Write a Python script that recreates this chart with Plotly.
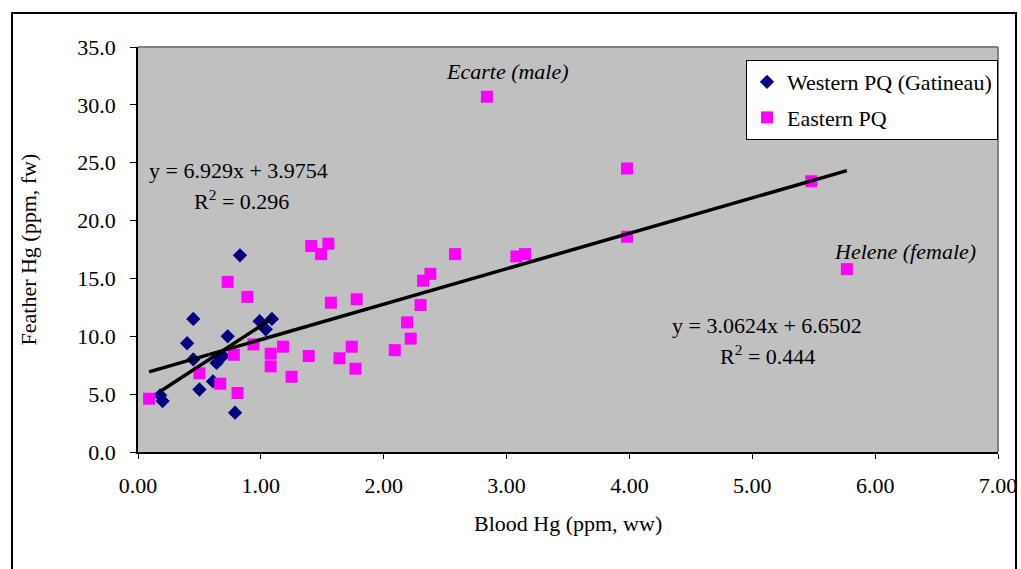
import plotly.graph_objects as go

# ---- data ----
west_x = [0.83, 0.45, 0.40, 0.45, 0.73, 0.64, 0.69, 0.61, 0.50, 0.18, 0.20, 0.79, 0.99, 1.09, 1.04]
west_y = [17.0, 11.5, 9.4, 8.0, 10.0, 7.7, 8.3, 6.1, 5.4, 4.9, 4.4, 3.4, 11.3, 11.5, 10.6]

east_x = [0.09, 0.50, 0.67, 0.73, 0.78, 0.81, 0.89, 0.94, 1.08, 1.08, 1.18, 1.25, 1.39, 1.41,
          1.49, 1.55, 1.57, 1.64, 1.74, 1.77, 1.78, 2.09, 2.19, 2.22, 2.30, 2.32, 2.38, 2.58,
          2.84, 3.08, 3.15, 3.98, 3.98, 5.48, 5.77]
east_y = [4.6, 6.8, 5.9, 14.7, 8.4, 5.1, 13.4, 9.3, 8.5, 7.4, 9.1, 6.5, 8.3, 17.8,
          17.1, 18.0, 12.9, 8.1, 9.1, 7.2, 13.2, 8.8, 11.2, 9.8, 12.7, 14.8, 15.4, 17.1,
          30.7, 16.9, 17.1, 24.5, 18.6, 23.4, 15.8]

west_fit = {"slope": 6.929, "intercept": 3.9754, "r2": "0.296"}
east_fit = {"slope": 3.0624, "intercept": 6.6502, "r2": "0.444"}

x_ticks = [0, 1, 2, 3, 4, 5, 6, 7]
y_ticks = [0, 5, 10, 15, 20, 25, 30, 35]

FONT = "Liberation Serif, Times New Roman, serif"
FS = 22

def fit_line(xs, fit):
    x0, x1 = min(xs), max(xs)
    return [x0, x1], [fit["slope"] * x0 + fit["intercept"], fit["slope"] * x1 + fit["intercept"]]

fig = go.Figure()

fig.add_trace(go.Scatter(
    x=west_x, y=west_y, mode="markers", name="Western PQ (Gatineau)",
    marker=dict(symbol="diamond", size=11, color="#000080", line=dict(width=0)),
    legendgroup="w"))
fig.add_trace(go.Scatter(
    x=east_x, y=east_y, mode="markers", name="Eastern PQ",
    marker=dict(symbol="square", size=12, color="#FF00FF", line=dict(width=0)),
    legendgroup="e"))

wx, wy = fit_line(west_x, west_fit)
ex, ey = fit_line(east_x, east_fit)
fig.add_trace(go.Scatter(x=wx, y=wy, mode="lines", line=dict(color="black", width=3.5),
                         showlegend=False, hoverinfo="skip"))
fig.add_trace(go.Scatter(x=ex, y=ey, mode="lines", line=dict(color="black", width=3.5),
                         showlegend=False, hoverinfo="skip"))

ann_font = dict(family=FONT, size=FS, color="black")
annotations = [
    dict(x=0.82, y=24.35, text=f"y = {west_fit['slope']}x + {west_fit['intercept']}"),
    dict(x=0.84, y=21.75, text=f"R<sup>2</sup> = {west_fit['r2']}"),
    dict(x=5.12, y=10.9, text=f"y = {east_fit['slope']}x + {east_fit['intercept']}"),
    dict(x=5.12, y=8.4, text=f"R<sup>2</sup> = {east_fit['r2']}"),
    dict(x=3.01, y=32.85, text="<i>Ecarte (male)</i>"),
    dict(x=6.245, y=17.3, text="<i>Helene (female)</i>"),
]
for a in annotations:
    a.update(xref="x", yref="y", showarrow=False, font=ann_font, xanchor="center", yanchor="middle")

# axis titles as paper annotations
annotations.append(dict(xref="paper", yref="paper", x=0.5, y=(452 - 523) / 405,
                        text="Blood Hg (ppm, ww)", showarrow=False, font=ann_font,
                        xanchor="center", yanchor="middle"))
annotations.append(dict(xref="paper", yref="paper", x=(28 - 138) / 860, y=0.5,
                        text="Feather Hg (ppm, fw)", textangle=-90, showarrow=False,
                        font=ann_font, xanchor="center", yanchor="middle"))

shapes = [
    # top and right gray border of plot area
    dict(type="line", xref="paper", yref="paper", x0=0, x1=1, y0=1, y1=1,
         line=dict(color="#808080", width=2)),
    dict(type="line", xref="paper", yref="paper", x0=1, x1=1, y0=0, y1=1,
         line=dict(color="#808080", width=2)),
    # outer chart border
    dict(type="rect", xref="paper", yref="paper",
         x0=(12 - 138) / 860, x1=(1016 - 138) / 860, y0=-0.4, y1=(452 - 13) / 405,
         line=dict(color="black", width=2), fillcolor="rgba(0,0,0,0)", layer="below"),
]

fig.update_layout(
    width=1021, height=569, autosize=False,
    margin=dict(l=138, r=23, t=47, b=117, pad=0, autoexpand=False),
    paper_bgcolor="white", plot_bgcolor="#C0C0C0",
    font=dict(family=FONT, size=FS, color="black"),
    showlegend=True,
    legend=dict(x=(746 - 138) / 860, y=(452 - 60) / 405, xanchor="left", yanchor="top",
                bgcolor="white", bordercolor="black", borderwidth=1,
                font=dict(family=FONT, size=FS, color="black"),
                traceorder="grouped", tracegroupgap=4, itemwidth=30),
    annotations=annotations,
    shapes=shapes,
)
fig.update_xaxes(range=[0, 7], tickvals=x_ticks, tickformat=".2f", showgrid=False,
                 zeroline=False, showline=True, linecolor="black", linewidth=1.5,
                 ticks="outside", ticklen=5, tickcolor="black", ticklabelstandoff=8,
                 automargin=False)
fig.update_yaxes(range=[0, 35], tickvals=y_ticks, tickformat=".1f", showgrid=False,
                 zeroline=False, showline=True, linecolor="black", linewidth=1.5,
                 ticks="outside", ticklen=6, tickcolor="black", ticklabelstandoff=10,
                 automargin=False)

fig.write_html("out.html")
